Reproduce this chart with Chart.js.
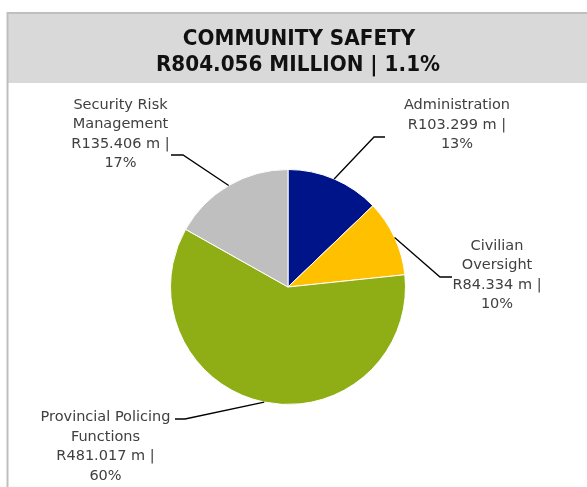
<!DOCTYPE html>
<html>
<head>
<meta charset="utf-8">
<script src="https://cdn.jsdelivr.net/npm/chart.js@4/dist/chart.umd.min.js"></script>
<style>
  html, body { margin: 0; padding: 0; background: #fff; }
  #wrap { width: 587px; height: 487px; }
</style>
</head>
<body>
<div id="wrap"><canvas id="c" width="587" height="487"></canvas></div>
<script>
// Budget split of the Community Safety vote (R million)
const categories = ['Administration', 'Civilian Oversight', 'Provincial Policing Functions', 'Security Risk Management'];
const labelNameLines = [['Administration'], ['Civilian', 'Oversight'], ['Provincial Policing', 'Functions'], ['Security Risk', 'Management']];
const values = [103.299, 84.334, 481.017, 135.406];
const sliceColors = ['#001489', '#FFC000', '#8FAE16', '#BFBFBF'];
const titleLines = ['COMMUNITY SAFETY', 'R804.056 MILLION | 1.1%'];

const total = values.reduce((a, b) => a + b, 0);

// Where each data label sits and how its leader line bends
const labelLayout = [
  { cx: 457, top: 105.5, elbow: [374, 137], end: [385, 137] },
  { cx: 497, top: 246,   elbow: [440, 277], end: [452, 277] },
  { cx: 105.5, top: 417.5, elbow: [185, 419], end: [175, 419] },
  { cx: 120.5, top: 105, elbow: [183, 155], end: [171, 155] }
];
const LINE_H = 19.5;
const LABEL_FONT = '14.5px "DejaVu Sans", sans-serif';
const TITLE_FONT = 'bold 20px "DejaVu Sans", sans-serif';
const TITLE_STRETCH = 1.08; // taller caps for the heading

const frame = {
  id: 'frame',
  beforeDraw(chart) {
    const ctx = chart.ctx;
    ctx.save();
    ctx.fillStyle = '#fff';
    ctx.fillRect(0, 0, chart.width, chart.height);
    // title band
    ctx.fillStyle = '#D9D9D9';
    ctx.fillRect(8, 14, chart.width - 8, 69);
    // outer border (top and left edges)
    ctx.strokeStyle = '#BFBFBF';
    ctx.lineWidth = 2;
    ctx.beginPath();
    ctx.moveTo(7.5, chart.height);
    ctx.lineTo(7.5, 13);
    ctx.lineTo(chart.width, 13);
    ctx.stroke();
    // title text
    ctx.fillStyle = '#111';
    ctx.font = TITLE_FONT;
    ctx.textAlign = 'center';
    ctx.textBaseline = 'alphabetic';
    ctx.scale(1, TITLE_STRETCH);
    ctx.fillText(titleLines[0], 299, 44.5 / TITLE_STRETCH);
    ctx.fillText(titleLines[1], 298, 71 / TITLE_STRETCH);
    ctx.restore();
  },
  afterDraw(chart) {
    const ctx = chart.ctx;
    const arcs = chart.getDatasetMeta(0).data;
    ctx.save();
    arcs.forEach((arc, i) => {
      const p = arc.getProps(['x', 'y', 'startAngle', 'endAngle', 'outerRadius'], true);
      const mid = (p.startAngle + p.endAngle) / 2;
      const sx = p.x + Math.cos(mid) * p.outerRadius;
      const sy = p.y + Math.sin(mid) * p.outerRadius;
      const L = labelLayout[i];
      ctx.strokeStyle = '#000';
      ctx.lineWidth = 1.3;
      ctx.beginPath();
      ctx.moveTo(sx, sy);
      ctx.lineTo(L.elbow[0], L.elbow[1]);
      ctx.lineTo(L.end[0], L.end[1]);
      ctx.stroke();

      const lines = labelNameLines[i].concat([
        'R' + values[i].toFixed(3) + ' m |',
        Math.round(values[i] / total * 100) + '%'
      ]);
      ctx.fillStyle = '#404040';
      ctx.font = LABEL_FONT;
      ctx.textAlign = 'center';
      ctx.textBaseline = 'middle';
      lines.forEach((t, k) => ctx.fillText(t, L.cx, L.top + k * LINE_H));
    });
    ctx.restore();
  }
};

new Chart(document.getElementById('c'), {
  type: 'pie',
  data: {
    labels: categories,
    datasets: [{
      data: values,
      backgroundColor: sliceColors,
      borderColor: '#FFFFFF',
      borderWidth: 1
    }]
  },
  options: {
    responsive: false,
    animation: false,
    layout: { padding: { left: 170, top: 169, right: 181, bottom: 82 } },
    plugins: {
      legend: { display: false },
      tooltip: { enabled: false },
      title: { display: false }
    }
  },
  plugins: [frame]
});
</script>
</body>
</html>
